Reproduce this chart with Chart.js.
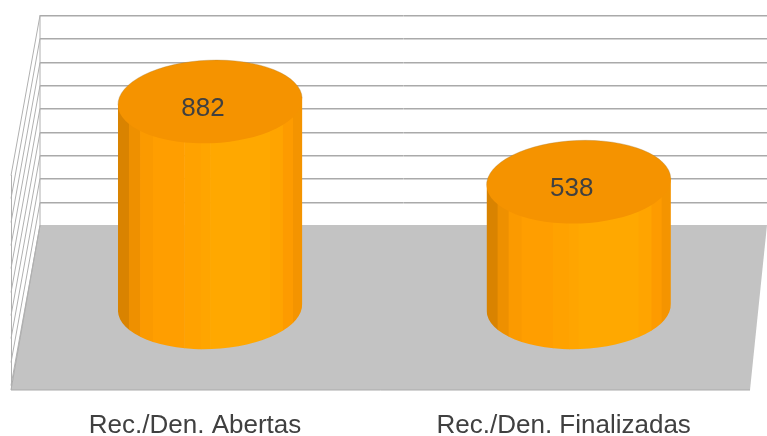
<!DOCTYPE html>
<html><head><meta charset="utf-8">
<style>html,body{margin:0;padding:0;background:#fff}canvas{display:block}</style>
<script src="https://cdn.jsdelivr.net/npm/chart.js@4/dist/chart.umd.min.js"></script>
</head><body><canvas id="c" width="767" height="436"></canvas>
<script>
const categories = ['Rec./Den. Abertas', 'Rec./Den. Finalizadas'];
const values = [882, 538];
const gridValues = [0, 100, 200, 300, 400, 500, 600, 700, 800, 900];

const cylinder3d = {
  id: 'cylinder3d',
  beforeDatasetsDraw(chart) {
    const ctx = chart.ctx, y = chart.scales.y;
    const base = y.getPixelForValue(0);
    ctx.save();
    ctx.fillStyle = '#c3c3c3';
    ctx.lineWidth = 1;
    ctx.beginPath();
    ctx.moveTo(40, base); ctx.lineTo(767, base); ctx.lineTo(750, base + 165); ctx.lineTo(11, base + 165);
    ctx.closePath(); ctx.fill();
    ctx.strokeStyle = '#aaaaaa';
    ctx.beginPath();
    ctx.moveTo(40, base); ctx.lineTo(11, base + 165); ctx.lineTo(750, base + 165);
    ctx.stroke();
    gridValues.forEach(v => {
      const p = Math.round(y.getPixelForValue(v));
      ctx.lineWidth = 1;
      if (v > 0) {
        ctx.strokeStyle = '#aaaaaa';
        ctx.beginPath(); ctx.moveTo(40, p + 0.5); ctx.lineTo(767, p + 0.5); ctx.stroke();
        ctx.strokeStyle = '#d4d4d4';
        ctx.beginPath(); ctx.moveTo(40, p + 1.5); ctx.lineTo(767, p + 1.5); ctx.stroke();
      }
      ctx.strokeStyle = '#b0b0b0';
      ctx.beginPath(); ctx.moveTo(40, p + 0.5); ctx.lineTo(11, p + 160.5); ctx.stroke();
    });
    ctx.strokeStyle = '#b0b0b0';
    ctx.beginPath(); ctx.moveTo(40, y.getPixelForValue(900)); ctx.lineTo(40, base); ctx.stroke();
    ctx.beginPath(); ctx.moveTo(11.5, y.getPixelForValue(900) + 160); ctx.lineTo(11.5, base + 165); ctx.stroke();
    ctx.restore();
  },
  afterDatasetsDraw(chart) {
    const ctx = chart.ctx, meta = chart.getDatasetMeta(0);
    const depth = 82.5, bRy = 41.5, tilt = -0.04;
    const bands = [[0,'#d98300'],[0.06,'#ee9000'],[0.12,'#fb9a00'],[0.19,'#ff9e00'],[0.36,'#ffa200'],[0.45,'#ffa500'],[0.5,'#ffa800'],[0.825,'#ffa400'],[0.895,'#fd9b00'],[0.95,'#f49400']];
    meta.data.forEach((bar, i) => {
      const cx = bar.x, rx = bar.width / 2;
      const topY = bar.y + depth, botY = bar.base + depth;
      ctx.save();
      ctx.beginPath();
      ctx.ellipse(cx, botY, rx, bRy, tilt, 0, Math.PI);
      ctx.lineTo(cx - rx, topY + 4);
      ctx.lineTo(cx + rx, topY - 4);
      ctx.closePath();
      ctx.clip();
      bands.forEach((b, k) => {
        const x0 = cx - rx + b[0] * 2 * rx;
        const x1 = k + 1 < bands.length ? cx - rx + bands[k + 1][0] * 2 * rx : cx + rx;
        ctx.fillStyle = b[1];
        ctx.fillRect(x0, topY - 10, x1 - x0 + 0.5, botY - topY + bRy + 20);
      });
      ctx.restore();
      ctx.beginPath();
      ctx.ellipse(cx, topY, rx, bRy, tilt, 0, Math.PI * 2);
      ctx.fillStyle = '#f59300';
      ctx.fill();
      ctx.strokeStyle = 'rgba(170,130,60,0.5)';
      ctx.lineWidth = 0.7;
      ctx.beginPath();
      ctx.ellipse(cx, topY, rx, bRy, tilt, Math.PI, Math.PI * 2);
      ctx.stroke();
      ctx.fillStyle = '#404040';
      ctx.font = '26px "Liberation Sans"';
      ctx.textAlign = 'center';
      ctx.textBaseline = 'middle';
      ctx.fillText(String(values[i]), cx - 7, topY + 7);
    });
  }
};

new Chart(document.getElementById('c'), {
  type: 'bar',
  data: { labels: categories, datasets: [{ data: values, backgroundColor: 'rgba(0,0,0,0)', barPercentage: 0.5, categoryPercentage: 1 }] },
  plugins: [cylinder3d],
  options: {
    responsive: false, animation: false, devicePixelRatio: 1,
    layout: { padding: { left: 25.75, right: 4, top: 15, bottom: 0 } },
    plugins: { legend: { display: false }, tooltip: { enabled: false } },
    scales: {
      x: {
        grid: { drawOnChartArea: false, tickLength: 185, tickColor: 'rgba(0,0,0,0)' }, border: { display: false },
        afterFit(s) { s.height = 211; },
        ticks: { color: '#404040', font: { family: '"Liberation Sans"', size: 26 }, padding: 0, labelOffset: -15, maxRotation: 0, autoSkip: false }
      },
      y: { display: false, min: 0, max: 900 }
    }
  }
});
</script></body></html>
